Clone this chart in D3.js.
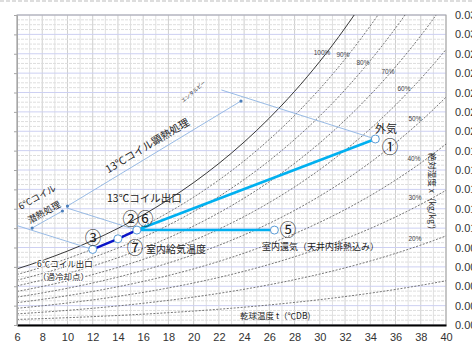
<!DOCTYPE html>
<html>
  <head>
    <meta charset="UTF-8">
    <title>空気線図</title>
    <script type="text/javascript" src="https://cdn.jsdelivr.net/npm/d3@7/dist/d3.min.js"></script>
    <style>
      body { margin: 0; background: #fff; }
      svg { display: block; }
      .jp { font-family: "Noto Sans CJK JP", sans-serif; fill: #222; }
      .num { font-family: "Liberation Sans", Arial, sans-serif; }
    </style>
  </head>
  <body>
    <svg width="472" height="344"></svg>
    <script>
    // 乾球温度の目盛 (℃)
    var tempTicks = [6, 8, 10, 12, 14, 16, 18, 20, 22, 24, 26, 28, 30, 32, 34, 36, 38, 40];
    // 絶対湿度の目盛 (kg/kg')
    var humTicks = [0, 0.002, 0.004, 0.006, 0.008, 0.010, 0.012, 0.014, 0.016,
                    0.018, 0.020, 0.022, 0.024, 0.026, 0.028, 0.030, 0.032];
    // 飽和水蒸気圧 (kPa) 6〜40℃
    var satTemp = [6, 7, 8, 9, 10, 11, 12, 13, 14, 15, 16, 17, 18, 19, 20, 21, 22, 23,
                   24, 25, 26, 27, 28, 29, 30, 31, 32, 33, 34, 35, 36, 37, 38, 39, 40];
    var satPress = [0.9354, 1.0021, 1.0730, 1.1482, 1.2282, 1.3129, 1.4028, 1.4981, 1.5989,
                    1.7057, 1.8188, 1.9383, 2.0647, 2.1982, 2.3392, 2.4881, 2.6452, 2.8109,
                    2.9856, 3.1697, 3.3637, 3.5679, 3.7828, 4.0089, 4.2467, 4.4966, 4.7592,
                    5.0351, 5.3247, 5.6286, 5.9475, 6.2818, 6.6324, 6.9997, 7.3844];
    var rhLevels = [100, 90, 80, 70, 60, 50, 40, 30, 20, 10];
    var atm = 101.325;

    // 状態点
    var stateNames = ["①", "②⑥", "③", "⑤", "⑦"];
    var stateTemp  = [34.4, 15.5, 12.0, 26.4, 14.0];
    var stateHum   = [0.0192, 0.0098, 0.0078, 0.0098, 0.0089];

    // エンタルピー線 (始点 t, x → 状態点)
    var enthStartT = [22.2, 9.9, 6.0];
    var enthStartX = [0.02426, 0.0121, 0.01026];
    var enthState  = [0, 1, 2];

    // 処理量の寸法線 (潜熱, 顕熱)
    var dimT1 = [7.2, 10.0];
    var dimX1 = [0.01001, 0.01228];
    var dimT2 = [9.6, 23.75];
    var dimX2 = [0.01177, 0.02312];

    var marge = {top: 15, bottom: 19, left: 17, right: 26};
    var svg = d3.select("svg");
    var width = +svg.attr("width");
    var height = +svg.attr("height");
    var pw = width - marge.left - marge.right;
    var ph = height - marge.top - marge.bottom;

    var xScale = d3.scaleLinear().domain([6, 40]).range([marge.left, marge.left + pw]);
    var yScale = d3.scaleLinear().domain([0, 0.032]).range([marge.top + ph, marge.top]);

    // 上端の点線
    svg.append("line")
      .attr("x1", 0).attr("x2", width).attr("y1", 1).attr("y2", 1)
      .attr("stroke", "#bbb").attr("stroke-dasharray", "4,2");

    svg.append("clipPath").attr("id", "plot")
      .append("rect")
      .attr("x", marge.left).attr("y", marge.top).attr("width", pw).attr("height", ph);

    var grid = svg.append("g");
    // 縦グリッド 1℃ごと
    var vt = [];
    for (var t = 6; t <= 40; t++) vt.push(t);
    grid.selectAll(".v").data(vt).enter().append("line")
      .attr("x1", function(d){ return xScale(d); })
      .attr("x2", function(d){ return xScale(d); })
      .attr("y1", marge.top).attr("y2", marge.top + ph)
      .attr("stroke", function(d){ return d % 2 == 0 ? "#cfcfcf" : "#e0e0e0"; })
      .attr("stroke-width", 1);
    // 横グリッド 0.0005ごと
    var ht = [];
    for (var i = 0; i <= 64; i++) ht.push(i);
    grid.selectAll(".h").data(ht).enter().append("line")
      .attr("x1", marge.left).attr("x2", marge.left + pw)
      .attr("y1", function(d){ return yScale(d * 0.0005); })
      .attr("y2", function(d){ return yScale(d * 0.0005); })
      .attr("stroke", function(d){ return d % 4 == 0 ? "#cdd0f2" : "#dedede"; })
      .attr("stroke-dasharray", function(d){ return d % 4 == 0 ? null : "3,1"; });

    // 枠
    svg.append("rect")
      .attr("x", marge.left).attr("y", marge.top).attr("width", pw).attr("height", ph)
      .attr("fill", "none").attr("stroke", "#a6a6a6");

    // 相対湿度線
    function humAt(ps, rh) {
      var p = ps * rh / 100;
      return 0.622 * p / (atm - p);
    }
    var line = d3.line()
      .x(function(d){ return xScale(d[0]); })
      .y(function(d){ return yScale(d[1]); })
      .curve(d3.curveMonotoneX);
    var curves = svg.append("g").attr("clip-path", "url(#plot)");
    curves.selectAll("path").data(rhLevels).enter().append("path")
      .attr("d", function(rh){
        return line(satTemp.map(function(t, i){ return [t, humAt(satPress[i], rh)]; }));
      })
      .attr("fill", "none")
      .attr("stroke", function(rh){ return rh == 100 ? "#222" : "#555"; })
      .attr("stroke-width", function(rh){ return rh == 100 ? 0.9 : 0.8; })
      .attr("stroke-dasharray", function(rh){ return rh == 100 ? null : "2,1.5"; });

    // 相対湿度ラベル
    var rhLabelPos = [[322, 52], [343, 54], [363, 62], [388, 71], [404, 88],
                      [415, 118], [414, 158], [415, 197], [415, 238]];
    svg.selectAll(".rhl").data(rhLabelPos).enter().append("text")
      .attr("class", "num")
      .attr("x", function(d){ return d[0]; })
      .attr("y", function(d){ return d[1]; })
      .attr("text-anchor", "middle").attr("dominant-baseline", "central")
      .attr("font-size", 6.5).attr("fill", "#444")
      .text(function(d, i){ return rhLevels[i] + "%"; });

    // 軸
    var xAxis = d3.axisBottom(xScale).tickValues(tempTicks).tickSize(0).tickPadding(8);
    var gx = svg.append("g")
      .attr("transform", "translate(0," + (marge.top + ph) + ")")
      .call(xAxis);
    gx.select(".domain").attr("stroke", "#000").attr("stroke-width", 2);
    gx.selectAll("text").attr("class", "num").attr("font-size", 11).attr("fill", "#333");

    var yAxisR = d3.axisRight(yScale).tickValues(humTicks).tickSize(0).tickPadding(9)
      .tickFormat(d3.format(".3f"));
    var gy = svg.append("g")
      .attr("transform", "translate(" + (marge.left + pw) + ",0)")
      .call(yAxisR);
    gy.select(".domain").remove();
    gy.selectAll("text").attr("class", "num").attr("font-size", 11).attr("fill", "#333");

    var yAxisL = d3.axisLeft(yScale).tickValues(humTicks).tickSize(3).tickFormat("");
    var gl = svg.append("g").attr("transform", "translate(" + marge.left + ",0)").call(yAxisL);
    gl.selectAll("line,path").attr("stroke", "#a6a6a6");

    // エンタルピー線
    var blueThin = "#8db3e2";
    svg.selectAll(".enth").data(enthState).enter().append("line")
      .attr("x1", function(d, i){ return xScale(enthStartT[i]); })
      .attr("y1", function(d, i){ return yScale(enthStartX[i]); })
      .attr("x2", function(d){ return xScale(stateTemp[d]); })
      .attr("y2", function(d){ return yScale(stateHum[d]); })
      .attr("stroke", blueThin).attr("stroke-width", 0.9);

    svg.selectAll(".dim").data(dimT1).enter().append("line")
      .attr("x1", function(d){ return xScale(d); })
      .attr("y1", function(d, i){ return yScale(dimX1[i]); })
      .attr("x2", function(d, i){ return xScale(dimT2[i]); })
      .attr("y2", function(d, i){ return yScale(dimX2[i]); })
      .attr("stroke", blueThin).attr("stroke-width", 0.9);
    var ends = [];
    dimT1.forEach(function(d, i){ ends.push([d, dimX1[i]]); ends.push([dimT2[i], dimX2[i]]); });
    svg.selectAll(".dimend").data(ends).enter().append("circle")
      .attr("cx", function(d){ return xScale(d[0]); })
      .attr("cy", function(d){ return yScale(d[1]); })
      .attr("r", 1.6).attr("fill", "#4a7ebb");

    // 空調プロセス線
    function pt(i) { return [xScale(stateTemp[i]), yScale(stateHum[i])]; }
    var proc = svg.append("g");
    proc.append("path")
      .attr("d", d3.line()([pt(0), pt(1), pt(3)]))
      .attr("fill", "none").attr("stroke", "#00b0f0").attr("stroke-width", 2.6);
    proc.append("path")
      .attr("d", d3.line()([pt(2), pt(4), pt(1)]))
      .attr("fill", "none").attr("stroke", "#0a14c8").attr("stroke-width", 2.4);

    svg.selectAll(".st").data(stateNames).enter().append("circle")
      .attr("cx", function(d, i){ return xScale(stateTemp[i]); })
      .attr("cy", function(d, i){ return yScale(stateHum[i]); })
      .attr("r", 4).attr("fill", "#fff").attr("stroke", "#5b9bd5").attr("stroke-width", 1);

    // 番号
    var numPos = [[389, 146], [137, 218], [92, 237], [287, 229], [134, 247]];
    svg.selectAll(".no").data(stateNames).enter().append("text")
      .attr("class", "jp")
      .attr("x", function(d, i){ return numPos[i][0]; })
      .attr("y", function(d, i){ return numPos[i][1]; })
      .attr("text-anchor", "middle").attr("dominant-baseline", "central")
      .attr("font-size", 16.5).attr("fill", "#111")
      .attr("letter-spacing", -2)
      .text(function(d){ return d; });

    // 注記
    function label(txt, x, y, size, rot, anchor) {
      var t = svg.append("text").attr("class", "jp")
        .attr("x", x).attr("y", y)
        .attr("font-size", size)
        .attr("dominant-baseline", "central")
        .attr("text-anchor", anchor || "start")
        .text(txt);
      if (rot) t.attr("transform", "rotate(" + rot + "," + x + "," + y + ")");
      return t;
    }
    label("外気", 386, 128, 11, 0, "middle");
    label("13℃コイル出口", 107, 197, 10.5);
    label("室内給気温度", 146, 248, 10);
    label("室内還気（天井内排熱込み）", 262, 246.5, 9);
    label("6℃コイル出口", 37, 263, 8.5).attr("stroke", "#fff").attr("stroke-width", 2).attr("paint-order", "stroke");
    label("（過冷却点）", 38, 276, 8.5).attr("stroke", "#fff").attr("stroke-width", 2).attr("paint-order", "stroke");
    label("乾球温度 t（℃DB)", 240, 315, 8.5);
    label("絶対湿度 x（kg/kg')", 433, 191, 8.5, 90, "middle");
    label("13℃コイル顕熱処理", 147, 145, 10.5, -31, "middle");
    label("6℃コイル", 37, 197, 9, -29, "middle");
    label("潜熱処理", 44, 212, 9, -29, "middle");
    label("エンタルピー", 193, 91, 5, -41, "middle").attr("fill", "#666");
    </script>
  </body>
</html>
